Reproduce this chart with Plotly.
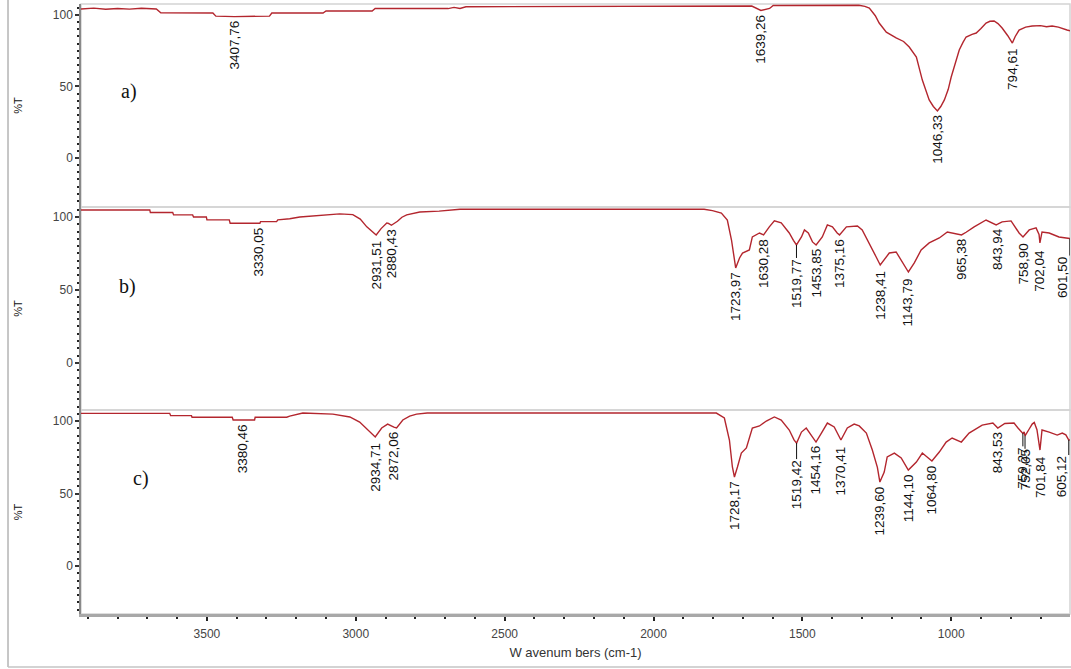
import numpy as np
import plotly.graph_objects as go

# ---------------- data ----------------
A_WN = [3923, 3880, 3840, 3800, 3760, 3720, 3670, 3655, 3480, 3470, 3407.76, 3290, 3282, 3110, 3100,
        2945, 2935, 2690, 2670, 2650, 2630, 2100, 1700, 1670, 1639.26, 1610, 1598, 1310, 1290, 1275,
        1255, 1242, 1218, 1200, 1185, 1160, 1141, 1117, 1097, 1074, 1060, 1046.33, 1035, 1023, 1010,
        1000, 985, 973, 960, 950, 930, 916, 900, 883, 870, 856, 843, 829, 810, 794.61, 785, 772, 750,
        728, 700, 680, 661, 640, 611, 601]
A_T = [104.2, 104.8, 104.0, 104.6, 104.1, 104.7, 104.2, 101.6, 101.4, 99.2, 98.9, 99.2, 101.4, 101.4, 102.8,
       102.8, 104.5, 104.5, 105.3, 104.6, 105.8, 106.2, 106.5, 106.3, 103.2, 104.6, 106.6, 106.8, 106.0, 104.8,
       99.5, 94.4, 88.0, 85.5, 84.0, 81.5, 77.6, 70.6, 54.5, 40.6, 36.0, 32.9, 36.0, 40.6, 48.0,
       56.6, 67.0, 75.5, 81.0, 84.6, 86.5, 87.4, 90.5, 94.4, 95.6, 95.8, 94.0, 90.9, 85.5, 80.4, 85.0, 89.5, 91.5,
       92.3, 92.6, 91.8, 92.3, 91.5, 89.5, 89.0]
A_PEAKS = [3407.76, 1639.26, 1046.33, 794.61]
A_LABELS = ["3407,76", "1639,26", "1046,33", "794,61"]

B_WN = [3923, 3692, 3690, 3615, 3612, 3548, 3545, 3502, 3500, 3425, 3422, 3330.05, 3322, 3320, 3266,
        3262, 3222, 3188, 3120, 3054, 3010, 2985, 2963, 2945, 2931.51, 2915, 2896, 2890, 2880.43, 2860,
        2845, 2829, 2785, 2720, 2675, 2650, 1830, 1802, 1772, 1752, 1738, 1728, 1723.97, 1711, 1701,
        1678, 1668, 1644, 1630.28, 1611, 1594, 1571, 1544, 1530, 1519.77, 1503, 1493, 1480, 1466,
        1453.85, 1433, 1416, 1399, 1383, 1375.16, 1352, 1315, 1299, 1275, 1252, 1238.41, 1225, 1208,
        1185, 1164, 1143.79, 1124, 1101, 1074, 1040, 1013, 990, 965.38, 950, 923, 883, 849, 843.94,
        829, 799, 785, 772, 758.90, 738, 715, 705, 702.04, 695, 671, 650, 638, 614, 608, 601.50]
B_T = [104.8, 104.8, 103.0, 103.0, 101.4, 101.4, 100.0, 100.0, 98.0, 98.0, 95.7, 95.5, 95.7, 96.8, 96.8,
       98.0, 98.8, 100.0, 101.0, 102.1, 101.6, 98.5, 93.2, 90.0, 87.7, 92.0, 95.9, 95.5, 94.3, 97.0,
       99.8, 101.4, 103.4, 104.0, 104.8, 105.3, 105.3, 104.3, 102.7, 97.9, 84.2, 70.5, 65.1, 71.9, 75.3,
       77.4, 86.3, 89.0, 87.7, 93.2, 97.3, 95.9, 89.0, 84.0, 80.8, 86.3, 91.1, 89.0, 82.9,
       80.8, 86.3, 94.5, 93.2, 89.0, 87.7, 93.2, 93.8, 91.1, 82.2, 72.6, 67.1, 70.5, 75.3,
       76.0, 69.2, 62.3, 68.5, 77.4, 82.2, 85.6, 89.7, 88.5, 87.7, 89.5, 93.2, 97.9, 94.5, 95.0,
       96.6, 97.3, 93.0, 89.0, 86.3, 91.1, 92.5, 88.0, 82.2, 89.7, 89.0, 87.5, 86.3, 85.6, 85.4, 85.2]
B_PEAKS = [3330.05, 2931.51, 2880.43, 1723.97, 1630.28, 1519.77, 1453.85, 1375.16, 1238.41, 1143.79,
           965.38, 843.94, 758.90, 702.04, 601.50]
B_LABELS = ["3330,05", "2931,51", "2880,43", "1723,97", "1630,28", "1519,77", "1453,85", "1375,16",
            "1238,41", "1143,79", "965,38", "843,94", "758,90", "702,04", "601,50"]

C_WN = [3923, 3625, 3622, 3552, 3550, 3415, 3412, 3380.46, 3340, 3338, 3232, 3222, 3178, 3077, 3020,
        2987, 2953, 2934.71, 2913, 2893, 2872.06, 2863, 2842, 2819, 2796, 2760, 1800, 1789, 1762, 1745,
        1735, 1728.17, 1718, 1705, 1688, 1678, 1668, 1644, 1621, 1594, 1571, 1544, 1528, 1519.42, 1503,
        1487, 1477, 1454.16, 1436, 1416, 1393, 1376, 1370.41, 1349, 1326, 1309, 1285, 1265, 1248,
        1239.60, 1225, 1215, 1191, 1168, 1150, 1144.10, 1117, 1097, 1081, 1064.80, 1040, 1017, 997,
        966, 940, 896, 860, 843.53, 820, 789, 775, 759.27, 755, 752.05, 738, 728, 721, 712, 701.84,
        695, 671, 644, 627, 615, 605.12, 601]
C_T = [105.3, 105.3, 103.7, 103.7, 102.6, 102.6, 100.7, 100.5, 100.7, 102.6, 102.6, 103.4, 105.5, 104.8, 102.8,
       99.3, 92.4, 89.0, 95.2, 97.9, 95.8, 95.2, 100.7, 103.4, 104.8, 105.5, 105.5, 105.5, 102.1, 86.9,
       68.3, 61.4, 68.3, 77.9, 81.4, 89.0, 95.2, 96.6, 100.0, 102.8, 100.7, 93.8, 87.0, 84.8, 92.4,
       95.2, 92.4, 85.5, 91.7, 98.6, 95.9, 89.0, 86.9, 95.2, 97.9, 96.6, 91.7, 80.0, 68.0,
       57.9, 64.8, 75.2, 77.9, 74.5, 68.5, 66.2, 71.7, 77.9, 75.2, 72.4, 78.6, 85.5, 88.3,
       85.5, 91.7, 97.2, 98.6, 95.2, 98.3, 98.6, 95.0, 91.5, 92.5, 89.8, 94.5, 97.9, 99.0, 94.0, 80.0,
       93.8, 92.4, 90.3, 91.7, 90.5, 86.9, 87.0]
C_PEAKS = [3380.46, 2934.71, 2872.06, 1728.17, 1519.42, 1454.16, 1370.41, 1239.60, 1144.10, 1064.80,
           843.53, 759.27, 752.05, 701.84, 605.12]
C_LABELS = ["3380,46", "2934,71", "2872,06", "1728,17", "1519,42", "1454,16", "1370,41", "1239,60",
            "1144,10", "1064,80", "843,53", "759,27", "752,05", "701,84", "605,12"]

PANEL_NAMES = ["a)", "b)", "c)"]
X_TICKS = [3500, 3000, 2500, 2000, 1500, 1000]
Y_TICKS = [0, 50, 100]

# ---------------- styling ----------------
LINE_COLOR = "#b3262e"
LABEL_FONT = dict(family="Liberation Sans, Arial, sans-serif", size=13.5, color="#111")
TICK_FONT = dict(family="Liberation Sans, Arial, sans-serif", size=12, color="#444")
DEFAULT_OFFSET = 3
LABEL_OFFSETS = {"1519,77": 13, "601,50": 17, "1519,42": 16, "759,27": 13, "752,05": 13,
                 "605,12": 15, "2931,51": 5, "1238,41": 5, "1143,79": 5, "758,90": 5,
                 "702,04": 6, "2934,71": 5, "1370,41": 5, "701,84": 5, "794,61": 5}
LABEL_XSHIFT = {"601,50": -8, "605,12": -7}
LEADER_MIN = 7
Y_RANGES = [[-34.3, 107.7], [-32.2, 106.8], [-33.1, 107.6]]
Y_DOMAINS = [[0.6672, 1.0], [0.3344, 0.6672], [0.0, 0.3344]]
LETTER_POS = [(0.0485, 0.567), (0.0475, 0.606), (0.0607, 0.662)]

panels = [(A_WN, A_T, A_PEAKS, A_LABELS),
          (B_WN, B_T, B_PEAKS, B_LABELS),
          (C_WN, C_T, C_PEAKS, C_LABELS)]

fig = go.Figure()
annotations = []
shapes = []
for i, (wn, t, peaks, labels) in enumerate(panels):
    yname = "y" if i == 0 else f"y{i+1}"
    fig.add_trace(go.Scatter(x=wn, y=t, mode="lines", xaxis="x", yaxis=yname,
                             line=dict(color=LINE_COLOR, width=1.4), showlegend=False,
                             hoverinfo="skip"))
    wn_asc = np.array(wn, dtype=float)[::-1]
    t_asc = np.array(t, dtype=float)[::-1]
    for p, lab in zip(peaks, labels):
        yv = float(np.interp(p, wn_asc, t_asc))
        off = LABEL_OFFSETS.get(lab, DEFAULT_OFFSET)
        annotations.append(dict(x=p, y=yv, xref="x", yref=yname, text=lab, textangle=-90,
                                showarrow=False, xanchor="center", yanchor="top",
                                yshift=-off, xshift=LABEL_XSHIFT.get(lab, 0),
                                borderpad=0, font=LABEL_FONT))
        if off >= LEADER_MIN:
            shapes.append(dict(type="line", xref="x", yref=yname, x0=p, x1=p,
                               ysizemode="pixel", yanchor=yv, y0=0, y1=-off,
                               line=dict(color="#111", width=1)))
    lx, ly = LETTER_POS[i]
    annotations.append(dict(x=lx, y=ly, xref="x domain", yref=f"{yname} domain",
                            text=PANEL_NAMES[i], showarrow=False,
                            xanchor="center", yanchor="middle",
                            font=dict(family="Liberation Serif, Times New Roman, serif",
                                      size=20, color="#111")))
    shapes.append(dict(type="rect", xref="x domain", yref=f"{yname} domain",
                       x0=0, x1=1, y0=0, y1=1, line=dict(color="#d4d4d4", width=1.5),
                       layer="below"))

# outer picture border (left and bottom)
shapes.append(dict(type="line", xref="paper", yref="paper", x0=-0.0738, x1=-0.0738,
                   y0=-0.0869, y1=1.01, line=dict(color="#b4b4b4", width=1.5)))
shapes.append(dict(type="line", xref="paper", yref="paper", x0=-0.0738, x1=1.01,
                   y0=-0.0869, y1=-0.0869, line=dict(color="#c4c4c4", width=1.5)))

layout = dict(
    width=1071, height=669,
    margin=dict(l=81, r=1, t=4, b=55, autoexpand=False),
    paper_bgcolor="white", plot_bgcolor="white",
    xaxis=dict(range=[3923, 601], anchor="y3", showgrid=False, zeroline=False, automargin=False,
               showline=True, linecolor="#a8a8a8", linewidth=2.5,
               tickmode="array", tickvals=X_TICKS, ticks="outside", ticklen=4, tickwidth=1.5,
               tickcolor="#222", tickfont=TICK_FONT, ticklabelstandoff=3,
               minor=dict(tickmode="linear", tick0=0, dtick=100, ticks="outside", ticklen=2,
                          tickwidth=2, tickcolor="#222", showgrid=False),
               title=dict(text="W avenum bers (cm-1)", standoff=8,
                          font=dict(family="Liberation Sans, Arial, sans-serif", size=13,
                                    color="#333"))),
    annotations=annotations, shapes=shapes,
)
for i in range(3):
    key = "yaxis" if i == 0 else f"yaxis{i+1}"
    layout[key] = dict(domain=Y_DOMAINS[i], range=Y_RANGES[i], anchor="x", automargin=False,
                       showgrid=False, zeroline=False, showline=True,
                       linecolor="#8a8a8a", linewidth=1.5,
                       tickmode="array", tickvals=Y_TICKS, ticks="outside", ticklen=4,
                       tickwidth=1.5, tickcolor="#333", tickfont=TICK_FONT,
                       minor=dict(tickmode="linear", tick0=0, dtick=5, ticks="outside",
                                  ticklen=2, tickwidth=2, tickcolor="#222", showgrid=False),
                       title=dict(text="%T", standoff=28,
                                  font=dict(family="Liberation Sans, Arial, sans-serif",
                                            size=11, color="#111")))

fig.update_layout(**layout)
fig.write_html("out.html", config={"displayModeBar": False},
               post_script="document.body.style.margin='0';")
